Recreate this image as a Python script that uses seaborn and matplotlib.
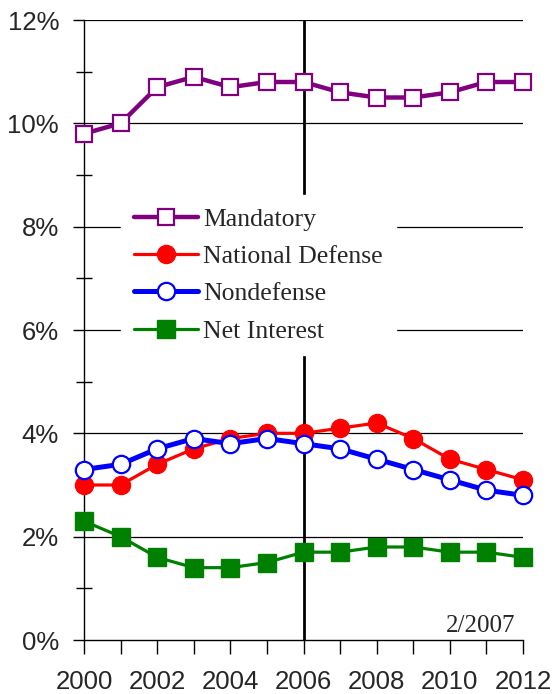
import numpy as np
import pandas as pd
import matplotlib
matplotlib.use("Agg")
import matplotlib.pyplot as plt
import seaborn as sns

# Outlays as a share of GDP, by category
years = list(range(2000, 2013))
mandatory = [9.8, 10.0, 10.7, 10.9, 10.7, 10.8, 10.8, 10.6, 10.5, 10.5, 10.6, 10.8, 10.8]
national_defense = [3.0, 3.0, 3.4, 3.7, 3.9, 4.0, 4.0, 4.1, 4.2, 3.9, 3.5, 3.3, 3.1]
nondefense = [3.3, 3.4, 3.7, 3.9, 3.8, 3.9, 3.8, 3.7, 3.5, 3.3, 3.1, 2.9, 2.8]
net_interest = [2.3, 2.0, 1.6, 1.4, 1.4, 1.5, 1.7, 1.7, 1.8, 1.8, 1.7, 1.7, 1.6]
series_names = ["Mandatory", "National Defense", "Nondefense", "Net Interest"]
y_ticks = [0, 2, 4, 6, 8, 10, 12]
y_tick_labels = ["0%", "2%", "4%", "6%", "8%", "10%", "12%"]
note_text = "2/2007"

df = pd.DataFrame({
    "year": years * 4,
    "value": mandatory + national_defense + nondefense + net_interest,
    "series": np.repeat(series_names, len(years)),
})

sns.set_style("white")
plt.rcParams["font.family"] = ["Liberation Sans", "DejaVu Sans"]

fig = plt.figure(figsize=(5.55, 6.94), dpi=100)
ax = fig.add_axes([84 / 555, 54 / 694, 439 / 555, 620 / 694])

# style per series: colour, marker, face, line width, marker size
styles = {
    "Mandatory": dict(color="#800080", marker="s", markerfacecolor="white",
                      linewidth=3.2, markersize=12, markeredgewidth=1.6),
    "National Defense": dict(color="#FF0000", marker="o", markerfacecolor="#FF0000",
                             linewidth=2.3, markersize=13, markeredgewidth=1.0),
    "Nondefense": dict(color="#0000FF", marker="o", markerfacecolor="white",
                       linewidth=3.6, markersize=12.5, markeredgewidth=1.6),
    "Net Interest": dict(color="#008000", marker="s", markerfacecolor="#008000",
                         linewidth=2.3, markersize=13, markeredgewidth=1.0),
}

# horizontal grid lines
for yv in y_ticks[1:]:
    ax.axhline(yv, color="black", linewidth=0.9, zorder=1)

# vertical marker at 2006
ax.axvline(2006, color="black", linewidth=2, zorder=2)

for name in series_names:
    st = styles[name]
    sns.lineplot(data=df[df["series"] == name], x="year", y="value", ax=ax,
                 label=name, color=st["color"], marker=st["marker"],
                 markerfacecolor=st["markerfacecolor"], markeredgecolor=st["color"],
                 markeredgewidth=st["markeredgewidth"], markersize=st["markersize"],
                 linewidth=st["linewidth"], clip_on=False, zorder=3)

ax.set_xlim(2000, 2012)
ax.set_ylim(0, 12)
ax.set_xlabel("")
ax.set_ylabel("")

ax.set_yticks(y_ticks)
ax.set_yticklabels(y_tick_labels)
ax.set_yticks([1, 3, 5, 7, 9, 11], minor=True)
ax.set_xticks(years)
ax.set_xticklabels([str(y) if y % 2 == 0 else "" for y in years])

ax.tick_params(axis="y", which="major", direction="out", length=8, width=1,
               color="black", labelsize=18.5, pad=10, left=True)
ax.tick_params(axis="y", which="minor", direction="inout", length=12, width=1,
               color="black", left=True)
ax.tick_params(axis="x", which="major", direction="out", length=10, width=1,
               color="black", labelsize=18.5, pad=11.5, bottom=True)

for side in ["top", "right"]:
    ax.spines[side].set_visible(False)
for side in ["left", "bottom"]:
    ax.spines[side].set_color("black")
    ax.spines[side].set_linewidth(1)

leg = ax.legend(loc="center left", bbox_to_anchor=(0.055, 0.588), frameon=True,
                prop={"family": ["Liberation Serif"], "size": 18.5},
                handlelength=2.5, handletextpad=0.2, labelspacing=0.55,
                borderpad=0.5, fancybox=False)
leg.get_frame().set_facecolor("white")
leg.get_frame().set_edgecolor("white")
leg.get_frame().set_alpha(1)
leg.set_zorder(5)

ax.text(2011.78, 0.15, note_text, ha="right", va="baseline",
        family=["Liberation Serif"], fontsize=18)

fig.savefig("out.png", dpi=100)
